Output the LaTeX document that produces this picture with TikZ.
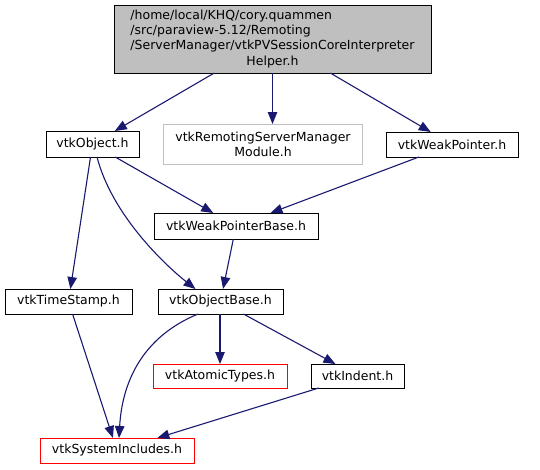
\documentclass[tikz,border=0pt]{standalone}
\usepackage{fontspec}
\setmainfont{DejaVu Sans}
\usetikzlibrary{arrows.meta}
\definecolor{edgeblue}{HTML}{191970}
\definecolor{topgray}{HTML}{BFBFBF}

\begin{document}
\begin{tikzpicture}[x=1pt, y=-1pt,
    every node/.style={font=\fontsize{12.5}{15.3}\selectfont, inner sep=0pt, outer sep=0pt},
    hfile/.style={draw=black, line width=1pt, fill=white},
    missing/.style={draw=red, line width=1pt, fill=white},
    nodoc/.style={draw=topgray, line width=1pt, fill=white, align=center},
    incl/.style={draw=edgeblue, line width=1.1pt, -{Triangle[length=12pt,width=9.5pt]}}]
        \useasboundingbox (0,0) rectangle (540,469);
        % the file itself
        \node[hfile, fill=topgray, minimum width=317pt, minimum height=68pt] (top) at (272.5,39)
          {\begin{tabular}{@{}l@{}}/home/local/KHQ/cory.quammen\\/src/paraview-5.12/Remoting\\/ServerManager/vtkPVSessionCoreInterpreter\\\multicolumn{1}{@{}c@{}}{Helper.h}\end{tabular}};
        % first level
        \node[hfile, minimum width=93pt, minimum height=26pt] (vtkobj) at (92.5,144) {vtkObject.h};
        \node[nodoc, minimum width=199pt, minimum height=40pt] (rsmmod) at (263,144)
          {vtkRemotingServerManager\\Module.h};
        \node[hfile, minimum width=132pt, minimum height=25pt] (weakptr) at (452,144.5) {vtkWeakPointer.h};
        % second level
        \node[hfile, minimum width=164pt, minimum height=26pt] (weakbase) at (236,226) {vtkWeakPointerBase.h};
        \node[hfile, minimum width=127pt, minimum height=25pt] (tstamp) at (68.5,301.5) {vtkTimeStamp.h};
        \node[hfile, minimum width=125pt, minimum height=25pt] (objbase) at (220.5,301.5) {vtkObjectBase.h};
        % bottom
        \node[missing, minimum width=134pt, minimum height=24pt] (atomic) at (220,376) {vtkAtomicTypes.h};
        \node[hfile, minimum width=93pt, minimum height=24pt] (indent) at (357.5,376) {vtkIndent.h};
        \node[missing, minimum width=154pt, minimum height=25pt] (sysinc) at (117,450.5) {vtkSystemIncludes.h};
        % includes
        \draw[incl] (top) -- (vtkobj);
        \draw[incl] (top.south) -- (top.south |- rsmmod.north);
        \draw[incl] (top) -- (weakptr);
        \draw[incl] (vtkobj) -- (weakbase);
        \draw[incl] (vtkobj) -- (tstamp);
        \draw[incl] ([xshift=4.5pt]vtkobj.south) .. controls (112,215) and (165,265) .. ([xshift=-25pt]objbase.north);
        \draw[incl] (weakptr) -- (weakbase);
        \draw[incl] (weakbase) -- (objbase);
        \draw[incl] (tstamp) -- (sysinc);
        \draw[incl] ([xshift=-22.5pt]objbase.south) .. controls (140,338) and (122,385) .. ([xshift=2pt]sysinc.north);
        \draw[incl] (objbase.south -| atomic.north) -- (atomic);
        \draw[incl] (objbase) -- (indent);
        \draw[incl] (indent) -- (sysinc);
      \end{tikzpicture}
\end{document}
